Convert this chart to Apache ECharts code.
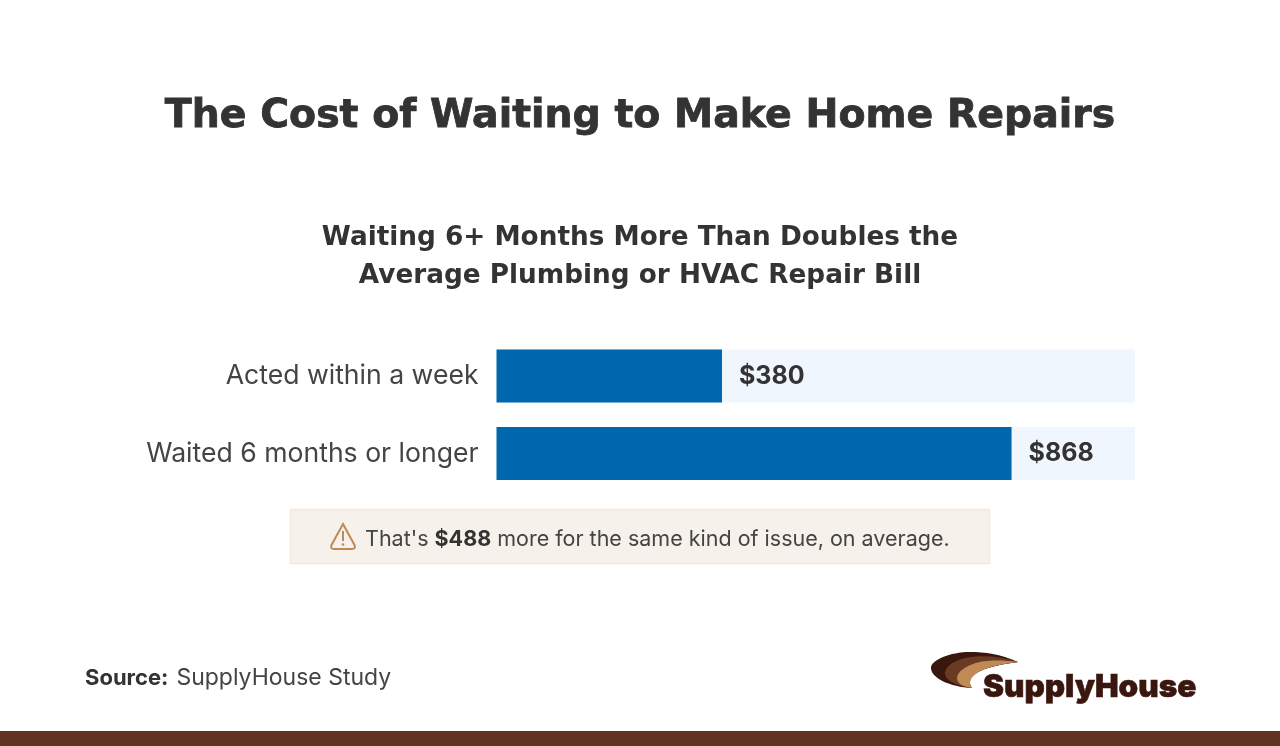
<!DOCTYPE html>
<html>
<head>
<meta charset="utf-8">
<title>The Cost of Waiting to Make Home Repairs</title>
<script src="https://cdn.jsdelivr.net/npm/echarts@6/dist/echarts.min.js"></script>
<style>
  html, body { margin: 0; padding: 0; background: #fff; }
  #chart { width: 1280px; height: 746px; }
</style>
</head>
<body>
<div id="chart"></div>
<script>
const categories = ['Acted within a week', 'Waited 6 months or longer'];
const repairCost = [380, 868];
const axisMax = 1076;

const FONT = 'Inter';
const HEAD = '"DejaVu Sans"';
const DARK = '#333333';

// logo and warning icon outlines
const shapes = {
  warn: 'M343 524 L354.5 545 Q356 549 352 549 L334 549 Q330 549 331.5 545 Z',
  swooshDark: 'M1018 662 C1000 654 985 652 970 652 C950 652 931 660 931 668 C931 678 950 687 972 688 C966 680 970 668 1018 662 Z',
  swooshMid: 'M1018 662 C1000 656 980 655 965 658 C952 661 945 668 945 673 C945 681 958 686 972 688 C966 680 970 668 1018 662 Z',
  swooshLight: 'M1018 662 C1003 660 990 660 980 662 C966 665 957 672 957 678 C957 684 964 687 972 688 C966 680 973 667 1018 662 Z'
};
Object.keys(shapes).forEach(name => {
  echarts.graphic.registerShape(name, echarts.graphic.extendPath(shapes[name]));
});

const chart = echarts.init(document.getElementById('chart'));

chart.setOption({
  animation: false,
  backgroundColor: '#fff',
  title: [
    {
      text: 'The Cost of Waiting to Make Home Repairs',
      left: 635, top: 92, textAlign: 'center',
      textStyle: { fontFamily: HEAD, fontWeight: 700, fontSize: 39.4, color: DARK,
        textBorderColor: DARK, textBorderWidth: 0.8 }
    },
    {
      text: 'Waiting 6+ Months More Than Doubles the\nAverage Plumbing or HVAC Repair Bill',
      left: 635, top: 214, textAlign: 'center',
      textStyle: { fontFamily: HEAD, fontWeight: 700, fontSize: 26.3, lineHeight: 38, color: DARK }
    }
  ],
  grid: { left: 496.5, top: 337.25, width: 638.5, height: 155 },
  xAxis: { type: 'value', min: 0, max: axisMax, show: false },
  yAxis: {
    type: 'category',
    data: categories,
    inverse: true,
    axisLine: { show: false },
    axisTick: { show: false },
    axisLabel: { margin: 18, fontFamily: FONT, fontSize: 26.6, color: '#444', padding: [1, 0, 0, 0] }
  },
  series: [{
    type: 'bar',
    data: repairCost,
    barWidth: 53,
    itemStyle: { color: '#0066ad' },
    showBackground: true,
    backgroundStyle: { color: '#f0f6fd' },
    label: {
      show: true,
      position: 'right',
      distance: 17,
      formatter: '${c}',
      fontFamily: FONT,
      fontWeight: 700,
      fontSize: 25,
      color: DARK
    }
  }],
  graphic: [
    // callout box
    { type: 'rect', shape: { x: 290.5, y: 509.5, width: 699, height: 54 },
      style: { fill: '#f6f1eb', stroke: '#f6e8dc', lineWidth: 1.5 } },
    { type: 'warn', style: { fill: 'none', stroke: '#c08a56', lineWidth: 2 } },
    { type: 'rect', shape: { x: 342, y: 531, width: 2, height: 10 }, style: { fill: '#c08a56' } },
    { type: 'circle', shape: { cx: 343, cy: 544.5, r: 1.3 }, style: { fill: '#c08a56' } },
    { type: 'text', x: 365, y: 539.5,
      style: {
        text: "{n|That's }{b|$488}{n| more for the same kind of issue, on average.}",
        verticalAlign: 'middle',
        rich: {
          n: { fontFamily: FONT, fontSize: 21.5, fill: '#444' },
          b: { fontFamily: FONT, fontSize: 21.5, fontWeight: 700, fill: DARK }
        }
      } },
    // source
    { type: 'text', x: 85, y: 678.5,
      style: {
        text: '{b|Source:}{n|SupplyHouse Study}',
        verticalAlign: 'middle',
        rich: {
          n: { fontFamily: FONT, fontSize: 23, fill: '#444', padding: [0, 0, 0, 8] },
          b: { fontFamily: FONT, fontSize: 22, fontWeight: 700, fill: DARK }
        }
      } },
    // logo
    { type: 'swooshDark', style: { fill: '#3a170e' } },
    { type: 'swooshMid', style: { fill: '#6b3a22' } },
    { type: 'swooshLight', style: { fill: '#c08a56' } },
    { type: 'text', x: 983, y: 688,
      style: { text: 'SupplyHouse', verticalAlign: 'middle',
        fontFamily: 'Inter', fontWeight: 900, fontSize: 31.5, fill: '#3a170e',
        stroke: '#3a170e', lineWidth: 0.6 } },
    // bottom band
    { type: 'rect', shape: { x: 0, y: 731, width: 1280, height: 15 }, style: { fill: '#603322' } }
  ]
});
</script>
</body>
</html>
